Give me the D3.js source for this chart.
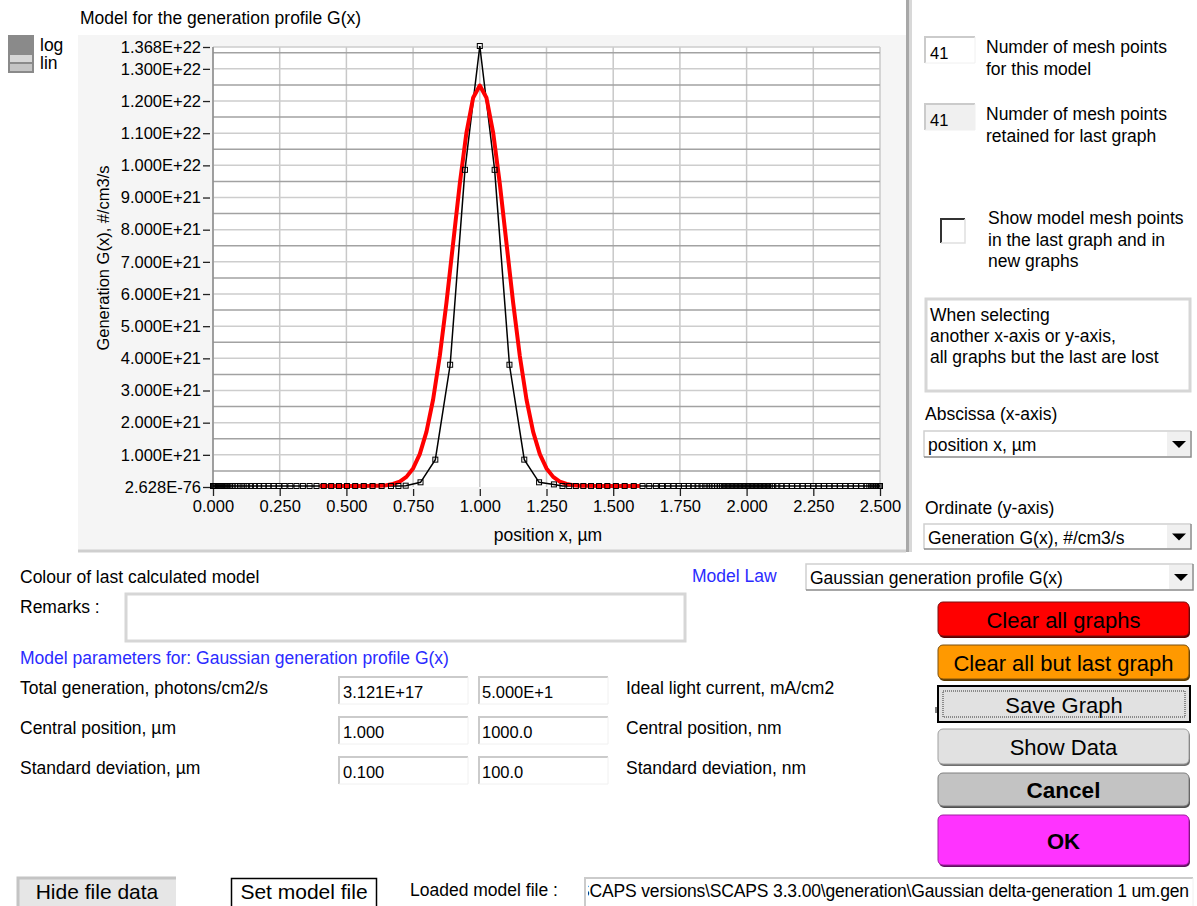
<!DOCTYPE html>
<html>
<head>
<meta charset="utf-8">
<script src="https://cdn.jsdelivr.net/npm/d3@7"></script>
<style>
  body { margin: 0; background: #fff; }
  svg { display: block; font-family: "Liberation Sans", Arial, sans-serif; }
</style>
</head>
<body>
<div id="chart"></div>
<script>
// set up dialog

var width = 1197,
  height = 906;

// last graph: mesh points of the retained model (black line, square markers)
var peakX = [0.7222, 0.7778, 0.8333, 0.8889, 0.9444, 1.0, 1.0556, 1.1111, 1.1667, 1.2222, 1.2778];
var peakG = [1e19, 1.15e20, 8.2e20, 3.77e21, 9.83e21, 1.368e22, 9.83e21, 3.77e21, 8.2e20, 1.15e20, 5e19];
// mesh points lying on the baseline (G = minimum of axis)
var baseLeftX = [0, 0.004, 0.008, 0.012, 0.016, 0.02, 0.024, 0.028, 0.032, 0.036, 0.04, 0.044, 0.048, 0.052,
  0.058, 0.065, 0.073, 0.082, 0.092, 0.103, 0.115, 0.128, 0.142, 0.157, 0.173, 0.19, 0.208, 0.227, 0.247,
  0.268, 0.29, 0.313, 0.337, 0.362, 0.388, 0.415, 0.443, 0.472, 0.502, 0.533, 0.565, 0.598, 0.632, 0.667, 0.695];
var baseRightX = [1.31, 1.335, 1.36, 1.388, 1.417, 1.447, 1.478, 1.51, 1.543, 1.577, 1.61, 1.635, 1.66, 1.683,
  1.705, 1.726, 1.746, 1.765, 1.783, 1.8, 1.816, 1.831, 1.845, 1.858, 1.87, 1.88, 1.89, 1.9, 1.907, 1.915,
  1.922, 1.93, 1.937, 1.945, 1.952, 1.96, 1.967, 1.975, 1.982, 1.99, 1.997, 2.005, 2.012, 2.02, 2.027, 2.035,
  2.042, 2.05, 2.057, 2.065, 2.072, 2.08, 2.087, 2.095, 2.1, 2.115, 2.13, 2.15, 2.17, 2.19, 2.21, 2.23, 2.25,
  2.27, 2.29, 2.31, 2.33, 2.35, 2.37, 2.39, 2.41, 2.43, 2.45, 2.46, 2.467, 2.474, 2.48, 2.485, 2.49, 2.495, 2.5];

// current model: Gaussian generation profile (red), G in units of 1E21 #/cm3/s
var modelX = [0.40, 0.45, 0.50, 0.55, 0.60, 0.625, 0.65, 0.675, 0.70, 0.725, 0.75, 0.775, 0.80, 0.825, 0.85,
  0.875, 0.90, 0.925, 0.95, 0.975, 1.00, 1.025, 1.05, 1.075, 1.10, 1.125, 1.15, 1.175, 1.20, 1.225, 1.25,
  1.275, 1.30, 1.325, 1.35, 1.375, 1.40, 1.45, 1.50, 1.55, 1.60];
var modelG21 = [0, 0, 0, 0.0005, 0.004, 0.011, 0.027, 0.063, 0.138, 0.284, 0.547, 0.991, 1.685, 2.69, 4.04,
  5.70, 7.55, 9.40, 10.99, 12.07, 12.45, 12.07, 10.99, 9.40, 7.55, 5.70, 4.04, 2.69, 1.685, 0.991, 0.547,
  0.284, 0.138, 0.063, 0.027, 0.011, 0.004, 0.0005, 0, 0, 0];

// axes
var gMin = 2.628e-76, gMax = 1.368e22;
var xTicks = [0, 0.25, 0.5, 0.75, 1.0, 1.25, 1.5, 1.75, 2.0, 2.25, 2.5];
var yTicks = [gMin, 1e21, 2e21, 3e21, 4e21, 5e21, 6e21, 7e21, 8e21, 9e21, 1e22, 1.1e22, 1.2e22, 1.3e22, gMax];
var yHalf = [0.5e21, 1.5e21, 2.5e21, 3.5e21, 4.5e21, 5.5e21, 6.5e21, 7.5e21, 8.5e21, 9.5e21, 10.5e21, 11.5e21, 12.5e21, 13.5e21];

var x = d3.scaleLinear().domain([0, 2.5]).range([213, 880]);
var y = d3.scaleLinear().domain([gMin, gMax]).range([487, 47]);

var FS = 17.5;   // dialog label size

var svg = d3.select("#chart").append("svg")
    .attr("width", width)
    .attr("height", height);

// ---- graph panel

svg.append("rect").attr("x", 78).attr("y", 35).attr("width", 830).attr("height", 516)
  .attr("fill", "#f5f5f5");
svg.append("line").attr("x1", 78).attr("x2", 906).attr("y1", 551).attr("y2", 551)
  .attr("stroke", "#cfcfcf").attr("stroke-width", 3);
svg.append("rect").attr("x", 906).attr("y", 0).attr("width", 3).attr("height", 552).attr("fill", "#a8a8a8");
svg.append("rect").attr("x", 909).attr("y", 0).attr("width", 3).attr("height", 552).attr("fill", "#d8d8d8");

svg.append("text").attr("x", 80).attr("y", 18).attr("dy", "0.35em")
  .style("font-size", FS + "px").text("Model for the generation profile G(x)");

// log / lin switch
svg.append("rect").attr("x", 8).attr("y", 35).attr("width", 26).attr("height", 38).attr("fill", "#8a8a8a");
svg.append("rect").attr("x", 10).attr("y", 55).attr("width", 22).attr("height", 7).attr("fill", "#d6d6d6");
svg.append("rect").attr("x", 10).attr("y", 64).attr("width", 22).attr("height", 7).attr("fill", "#c4c4c4");
svg.append("text").attr("x", 40).attr("y", 45).attr("dy", "0.35em").style("font-size", FS + "px").text("log");
svg.append("text").attr("x", 40).attr("y", 63).attr("dy", "0.35em").style("font-size", FS + "px").text("lin");

// plot area
svg.append("rect").attr("x", 213).attr("y", 47).attr("width", 667).attr("height", 440).attr("fill", "#fff");

var grid = svg.append("g");
grid.selectAll("line.v").data(xTicks).enter().append("line")
  .attr("x1", function(d) { return x(d); }).attr("x2", function(d) { return x(d); })
  .attr("y1", 47).attr("y2", 487)
  .attr("stroke", "#c8c8c8").attr("stroke-width", 1.5);
grid.selectAll("line.h").data(yTicks.slice(1)).enter().append("line")
  .attr("x1", 213).attr("x2", 880)
  .attr("y1", function(d) { return y(d); }).attr("y2", function(d) { return y(d); })
  .attr("stroke", "#cdcdcd").attr("stroke-width", 1.5);
grid.selectAll("line.hh").data(yHalf).enter().append("line")
  .attr("x1", 213).attr("x2", 880)
  .attr("y1", function(d) { return y(d); }).attr("y2", function(d) { return y(d); })
  .attr("stroke", "#a2a2a2").attr("stroke-width", 1.5);
svg.append("line").attr("x1", 213).attr("x2", 213).attr("y1", 47).attr("y2", 488)
  .attr("stroke", "#8c8c8c").attr("stroke-width", 1.5);

// axes
var yAxis = svg.append("g").attr("transform", "translate(210,0)")
  .call(d3.axisLeft(y).tickValues(yTicks)
    .tickFormat(function(d) { return d.toExponential(3).toUpperCase(); })
    .tickSize(7).tickPadding(2));
var xAxis = svg.append("g").attr("transform", "translate(0,489)")
  .call(d3.axisBottom(x).tickValues(xTicks).tickFormat(d3.format(".3f")).tickSize(7).tickPadding(4));
[yAxis, xAxis].forEach(function(a) {
  a.select(".domain").remove();
  a.selectAll("line").attr("stroke", "#222").attr("stroke-width", 1.3);
  a.selectAll("text").attr("fill", "#000").style("font-size", "16.5px")
    .style("font-family", "'Liberation Sans', Arial, sans-serif");
});

svg.append("text").attr("x", 548).attr("y", 535).attr("dy", "0.35em").attr("text-anchor", "middle")
  .style("font-size", FS + "px").text("position x, \u00b5m");
svg.append("text").attr("transform", "translate(103,258) rotate(-90)").attr("dy", "0.35em")
  .attr("text-anchor", "middle").style("font-size", "16.5px").text("Generation G(x),  #/cm3/s");

// series
svg.append("clipPath").attr("id", "plotclip").append("rect")
  .attr("x", 206).attr("y", 43).attr("width", 680).attr("height", 450);
var plot = svg.append("g").attr("clip-path", "url(#plotclip)");

var mesh = baseLeftX.map(function(d) { return {x: d, g: gMin}; })
  .concat(peakX.map(function(d, i) { return {x: d, g: peakG[i]}; }))
  .concat(baseRightX.map(function(d) { return {x: d, g: gMin}; }));
var model = modelX.map(function(d, i) { return {x: d, g: modelG21[i] * 1e21}; });

var line = d3.line()
  .x(function(d) { return x(d.x); })
  .y(function(d) { return y(d.g) - 1; });

plot.append("path").datum(mesh).attr("d", line)
  .attr("fill", "none").attr("stroke", "#000").attr("stroke-width", 1.5);
plot.append("path").datum(model).attr("d", line)
  .attr("fill", "none").attr("stroke", "#ff0000").attr("stroke-width", 4)
  .attr("stroke-linejoin", "round");
plot.selectAll("rect.mk").data(mesh).enter().append("rect")
  .attr("x", function(d) { return x(d.x) - 2.5; })
  .attr("y", function(d) { return y(d.g) - 3.5; })
  .attr("width", 5).attr("height", 5)
  .attr("fill", "none").attr("stroke", "#000").attr("stroke-width", 1);

// ---- widgets

function label(tx, ty, str, size, opts) {
  opts = opts || {};
  return svg.append("text").attr("x", tx).attr("y", ty).attr("dy", "0.35em")
    .attr("text-anchor", opts.anchor || "start")
    .attr("fill", opts.color || "#000")
    .style("font-weight", opts.bold ? "bold" : "normal")
    .style("font-size", size + "px").text(str);
}

function sunken(bx, by, w, h, fill) {
  svg.append("rect").attr("x", bx).attr("y", by).attr("width", w).attr("height", h).attr("fill", fill || "#fff");
  svg.append("path").attr("d", "M" + bx + "," + (by + h) + "V" + by + "H" + (bx + w))
    .attr("fill", "none").attr("stroke", "#cbcbcb").attr("stroke-width", 2);
  svg.append("path").attr("d", "M" + (bx + w) + "," + by + "V" + (by + h) + "H" + bx)
    .attr("fill", "none").attr("stroke", "#f0f0f0").attr("stroke-width", 1);
}

function framed(bx, by, w, h) {
  svg.append("rect").attr("x", bx).attr("y", by).attr("width", w).attr("height", h)
    .attr("fill", "#fff").attr("stroke", "#d6d6d6").attr("stroke-width", 3);
}

function dropdown(bx, by, w, h, str, size) {
  svg.append("rect").attr("x", bx).attr("y", by).attr("width", w).attr("height", h).attr("fill", "#fff");
  svg.append("path").attr("d", "M" + bx + "," + (by + h) + "V" + by + "H" + (bx + w))
    .attr("fill", "none").attr("stroke", "#d0d0d0").attr("stroke-width", 1.5);
  svg.append("rect").attr("x", bx + w - 24).attr("y", by + 1).attr("width", 23).attr("height", h - 2).attr("fill", "#f0f0f0");
  svg.append("path").attr("d", "M" + (bx + w) + "," + by + "V" + (by + h) + "H" + bx)
    .attr("fill", "none").attr("stroke", "#8a8a8a").attr("stroke-width", 1.5);
  var cx = bx + w - 12, cy = by + h / 2;
  svg.append("path").attr("d", "M" + (cx - 7) + "," + (cy - 3) + "H" + (cx + 7) + "L" + cx + "," + (cy + 4) + "Z")
    .attr("fill", "#000");
  label(bx + 4, cy + 1, str, size);
}

function button(bx, by, w, h, str, fill, opts) {
  opts = opts || {};
  svg.append("rect").attr("x", bx + 1).attr("y", by + 2).attr("width", w).attr("height", h).attr("rx", 5)
    .attr("fill", opts.shadow || "#555");
  svg.append("rect").attr("x", bx).attr("y", by).attr("width", w).attr("height", h).attr("rx", 5)
    .attr("fill", fill).attr("stroke", opts.stroke || "#6a6a6a").attr("stroke-width", 1);
  label(bx + w / 2, by + h / 2 + 1, str, opts.size || 22, {anchor: "middle", bold: opts.bold});
}

// right column
sunken(925, 37, 50, 26, "#fff");
label(930, 53, "41", 16.5);
label(986, 47, "Numder of mesh points", FS);
label(986, 69, "for this model", FS);

sunken(925, 104, 50, 26, "#f0f0f0");
label(930, 120, "41", 16.5);
label(986, 114, "Numder of mesh points", FS);
label(986, 136, "retained for last graph", FS);

svg.append("rect").attr("x", 941).attr("y", 219).attr("width", 24).attr("height", 24).attr("fill", "#fff");
svg.append("path").attr("d", "M941,243V219H965").attr("fill", "none").attr("stroke", "#333").attr("stroke-width", 2);
svg.append("path").attr("d", "M965,219V243H941").attr("fill", "none").attr("stroke", "#e0e0e0").attr("stroke-width", 1.5);
label(988, 218, "Show model mesh points", FS);
label(988, 240, "in the last graph and in", FS);
label(988, 261, "new graphs", FS);

framed(926, 299, 264, 92);
label(930, 315, "When selecting", FS);
label(930, 336, "another x-axis or y-axis,", FS);
label(930, 357, "all graphs but the last are lost", FS);

label(925, 414, "Abscissa (x-axis)", FS);
dropdown(924, 431, 267, 26, "position x, \u00b5m", FS);
label(925, 508, "Ordinate (y-axis)", FS);
dropdown(924, 524, 267, 25, "Generation G(x), #/cm3/s", FS);

// lower part
label(20, 577, "Colour of last calculated model", FS);
label(692, 576, "Model Law", FS, {color: "#2b2bff"});
dropdown(806, 564, 387, 26, "Gaussian generation profile G(x)", FS);

label(20, 607, "Remarks :", FS);
framed(126, 594, 559, 47);

label(20, 658, "Model parameters for: Gaussian generation profile G(x)", FS, {color: "#2b2bff"});

var paramRows = [
  ["Total generation, photons/cm2/s", "3.121E+17", "5.000E+1", "Ideal light current, mA/cm2"],
  ["Central position, \u00b5m", "1.000", "1000.0", "Central position, nm"],
  ["Standard deviation, \u00b5m", "0.100", "100.0", "Standard deviation, nm"]
];
paramRows.forEach(function(r, i) {
  var ry = 689 + i * 40;
  label(20, ry - 1, r[0], FS);
  sunken(339, ry - 12, 129, 27);
  label(343, ry + 3, r[1], 16.5);
  sunken(479, ry - 12, 129, 27);
  label(482, ry + 3, r[2], 16.5);
  label(626, ry - 1, r[3], FS);
});

button(938, 602, 251, 34, "Clear all graphs", "#ff0000", {stroke: "#7a1010", shadow: "#5a0000"});
button(938, 645, 251, 34, "Clear all but last graph", "#ff9900", {stroke: "#7a5010", shadow: "#5a3a00"});
svg.append("rect").attr("x", 938).attr("y", 686).attr("width", 252).attr("height", 36)
  .attr("fill", "#e1e1e1").attr("stroke", "#000").attr("stroke-width", 2);
svg.append("rect").attr("x", 943).attr("y", 691).attr("width", 242).attr("height", 26)
  .attr("fill", "none").attr("stroke", "#333").attr("stroke-dasharray", "1,1");
label(1064, 705, "Save Graph", 22, {anchor: "middle"});
svg.append("line").attr("x1", 936).attr("x2", 936).attr("y1", 707).attr("y2", 713).attr("stroke", "#000");
button(938, 729, 251, 35, "Show Data", "#e1e1e1", {stroke: "#a0a0a0", shadow: "#707070"});
button(938, 773, 251, 33, "Cancel", "#c3c3c3", {stroke: "#808080", shadow: "#505050", bold: true, size: 22.5});
button(938, 815, 251, 50, "OK", "#ff33ff", {stroke: "#a020a0", shadow: "#601060", bold: true, size: 22});

// bottom row
svg.append("rect").attr("x", 18).attr("y", 878).attr("width", 158).attr("height", 30).attr("fill", "#e6e6e6");
svg.append("path").attr("d", "M18,908V878H176").attr("fill", "none").attr("stroke", "#c4c4c4").attr("stroke-width", 3);
label(97, 892, "Hide file data", 21, {anchor: "middle"});
svg.append("rect").attr("x", 231.5).attr("y", 878.5).attr("width", 145).attr("height", 30)
  .attr("fill", "#fff").attr("stroke", "#000").attr("stroke-width", 1.5);
label(304, 892, "Set model file", 21, {anchor: "middle"});
label(410, 890, "Loaded model file :", FS);

svg.append("clipPath").attr("id", "fileclip").append("rect")
  .attr("x", 588).attr("y", 878).attr("width", 603).attr("height", 30);
sunken(585, 878, 608, 30);
svg.append("g").attr("clip-path", "url(#fileclip)").append("text")
  .attr("x", 578).attr("y", 891).attr("dy", "0.35em")
  .attr("textLength", 611).attr("lengthAdjust", "spacing")
  .style("font-size", FS + "px")
  .text("SCAPS versions\\SCAPS 3.3.00\\generation\\Gaussian delta-generation 1 um.gen");
</script>
</body>
</html>
